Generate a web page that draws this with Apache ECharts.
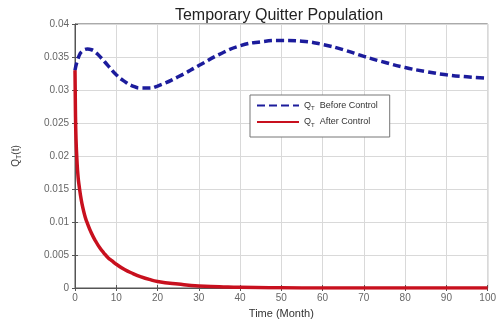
<!DOCTYPE html>
<html><head><meta charset="utf-8">
<script src="https://cdn.jsdelivr.net/npm/echarts@6/dist/echarts.min.js"></script>
<style>html,body{margin:0;padding:0;background:#fff}#c{width:499px;height:324px}</style>
</head><body><div id="c"></div>
<script>
var titleText = 'Temporary Quitter Population';
var xName = 'Time (Month)';
var xTicks = [0,10,20,30,40,50,60,70,80,90,100];
var yTicks = [0,0.005,0.01,0.015,0.02,0.025,0.03,0.035,0.04];
var beforeT = [0,1,2,3,4,5,6,8,10,12,14,16,18,20,25,30,35,40,45,50,55,60,65,70,75,80,85,90,95,100];
var beforeV = [0.0330,0.0352,0.0360,0.0362,0.0361,0.0357,0.0351,0.0337,0.0323,0.0313,0.0306,0.0303,0.0303,0.0306,0.0320,0.0337,0.0354,0.0367,0.0373,0.0375,0.0374,0.0369,0.0361,0.0351,0.0342,0.0334,0.0328,0.0323,0.0320,0.0318];
var afterT = [0,0.1,0.25,0.5,0.75,1,1.5,2,2.5,3,4,5,6,7,8,9,10,12,14,16,18,20,25,30,35,40,50,60,70,80,90,100];
var afterV = [0.033,0.027,0.0225,0.019,0.0168,0.0155,0.0134,0.0119,0.0107,0.0098,0.0083,0.0071,0.0061,0.0053,0.0046,0.0041,0.0036,0.0028,0.0022,0.0017,0.0013,0.0010,0.0006,0.0003,0.0002,0.0001,0.00003,0,0,0,0,0];
var beforeName = 'Before Control';
var afterName = 'After Control';

function zip(a,b){return a.map(function(v,i){return [v,b[i]];});}
var chart = echarts.init(document.getElementById('c'));
var fontF = '"Liberation Sans", Arial, sans-serif';
var gridLine = {show:true, lineStyle:{color:'#d9d9d9', width:1}};
chart.setOption({
  animation:false,
  title:{text:titleText, left:274, top:3, textAlign:'center', textStyle:{fontFamily:fontF, fontSize:16, fontWeight:'normal', color:'#222'}},
  grid:{left:75, right:11, top:24, bottom:36, show:true, borderColor:'#555', borderWidth:1},
  legend:{
    left:250, top:95, orient:'vertical', itemWidth:42, itemHeight:10, itemGap:6,
    padding:[6,12,9,6],
    borderColor:'#777', borderWidth:1, backgroundColor:'#fff',
    data:[beforeName, afterName],
    itemStyle:{opacity:0},
    formatter:function(n){return '{q|Q}{s|T}{t|  '+n+'}';},
    textStyle:{fontFamily:fontF, fontSize:9, color:'#333',
      rich:{q:{fontSize:9,color:'#333'}, s:{fontSize:6,color:'#333',verticalAlign:'bottom',padding:[6,0,0,0]}, t:{fontSize:9,color:'#333'}}}
  },
  xAxis:[{
    type:'value', min:0, max:100, interval:10,
    name:xName, nameLocation:'middle', nameGap:20,
    nameTextStyle:{fontFamily:fontF, fontSize:11, color:'#333'},
    axisLine:{show:true, lineStyle:{color:'#555'}},
    axisTick:{show:true, inside:true, length:3, lineStyle:{color:'#555'}},
    axisLabel:{fontFamily:fontF, fontSize:10, color:'#666', margin:5},
    splitLine:gridLine
  },{
    type:'value', min:0, max:100, interval:10, position:'top',
    axisLine:{show:false}, axisTick:{show:true, inside:true, length:3, lineStyle:{color:'#555'}},
    axisLabel:{show:false}, splitLine:{show:false}
  }],
  yAxis:[{
    type:'value', min:0, max:0.04, interval:0.005,
    name:'{q|Q}{s|T}{t|(t)}', nameLocation:'middle', nameGap:52, nameRotate:90,
    nameTextStyle:{fontFamily:fontF, fontSize:10, color:'#444',
      rich:{q:{fontSize:10,color:'#444'}, s:{fontSize:7,color:'#444',padding:[6,0,0,0]}, t:{fontSize:10,color:'#444'}}},
    axisLine:{show:true, lineStyle:{color:'#555'}},
    axisTick:{show:true, inside:true, length:3, lineStyle:{color:'#555'}},
    axisLabel:{fontFamily:fontF, fontSize:10, color:'#666', margin:6,
      formatter:function(v){return String(+v.toFixed(3));}},
    splitLine:gridLine
  },{
    type:'value', min:0, max:0.04, interval:0.005, position:'right',
    axisLine:{show:false}, axisTick:{show:true, inside:true, length:3, lineStyle:{color:'#555'}},
    axisLabel:{show:false}, splitLine:{show:false}
  }],
  series:[{
    name:beforeName, type:'line', smooth:true, symbol:'none', showSymbol:false,
    data:zip(beforeT, beforeV),
    lineStyle:{color:'#1c1c9c', width:3.5, type:[8,4]}, itemStyle:{color:'#1c1c9c'}, z:3
  },{
    name:afterName, type:'line', smooth:true, symbol:'none', showSymbol:false,
    data:zip(afterT, afterV),
    lineStyle:{color:'#c8101e', width:3.5}, itemStyle:{color:'#c8101e'}, z:4
  }]
});
</script></body></html>
